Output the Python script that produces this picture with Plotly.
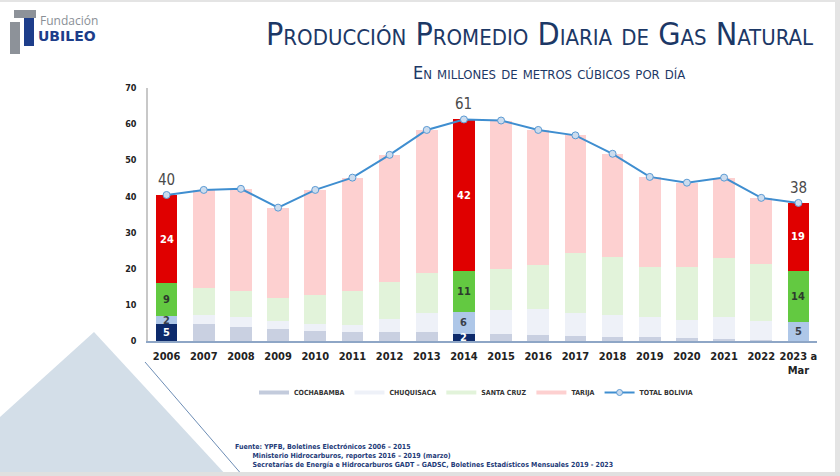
import plotly.graph_objects as go

# ---------------- data ----------------
years = ["2006", "2007", "2008", "2009", "2010", "2011", "2012", "2013", "2014",
         "2015", "2016", "2017", "2018", "2019", "2020", "2021", "2022", "2023 a<br>Mar"]
cochabamba = [4.6, 4.6, 4.0, 3.2, 2.8, 2.6, 2.6, 2.4, 1.9, 1.8, 1.7, 1.4, 1.2, 1.0, 0.8, 0.5, 0.4, 0.1]
chuquisaca = [2.3, 2.6, 2.6, 2.2, 1.8, 1.8, 3.4, 5.3, 6.2, 6.8, 7.1, 6.3, 6.0, 5.7, 5.0, 6.2, 5.0, 5.1]
santa_cruz = [9.1, 7.4, 7.3, 6.4, 8.1, 9.3, 10.4, 11.2, 11.3, 11.3, 12.2, 16.6, 16.0, 13.9, 14.6, 16.4, 15.9, 14.3]
tarija = [24.4, 27.2, 28.2, 25.1, 29.1, 31.5, 35.1, 39.5, 41.9, 41.1, 37.4, 32.6, 28.6, 24.8, 23.4, 22.1, 18.3, 18.7]
total_bolivia = [40.4, 41.8, 42.1, 36.9, 41.8, 45.2, 51.5, 58.4, 61.3, 61.0, 58.4, 56.9, 51.8, 45.4, 43.8, 45.2, 39.6, 38.2]
highlight = [0, 8, 17]
y_ticks = [0, 10, 20, 30, 40, 50, 60, 70]

# ---------------- style ----------------
FONT = "Liberation Sans Narrow, DejaVu Sans Condensed, Roboto Condensed, Arial Narrow, Roboto, sans-serif"
NAVY = "#1c3866"
series = [
    ("COCHABAMBA", cochabamba, "#c9d0e1", "#0d2a6b", "white"),
    ("CHUQUISACA", chuquisaca, "#eef1f8", "#aec7e8", "#3a3f4a"),
    ("SANTA CRUZ", santa_cruz, "#e2f3da", "#63c941", "#2d3a2d"),
    ("TARIJA", tarija, "#fdd0d0", "#e00000", "white"),
]

L, R, T, B = 148, 23, 88, 135
W, H = 840, 476
PW, PH = W - L - R, H - T - B


def px(x):
    return (x - L) / PW


def py(y):
    return (H - B - y) / PH


fig = go.Figure()

for name, vals, c_norm, c_hi, _ in series:
    colors = [c_hi if i in highlight else c_norm for i in range(len(vals))]
    fig.add_trace(go.Bar(x=years, y=vals, name=name, marker=dict(color=colors, line=dict(width=0)),
                         width=0.58, showlegend=False, hoverinfo="skip"))

fig.add_trace(go.Scatter(x=years, y=total_bolivia, mode="lines+markers", name="TOTAL BOLIVIA",
                         line=dict(color="#3f8ed0", width=2),
                         marker=dict(size=7, color="#ccdcee", line=dict(color="#5b9ad3", width=1)),
                         showlegend=False))

# legend entries (line-style symbols like the original)
for name, vals, c_norm, c_hi, _ in series:
    fig.add_trace(go.Scatter(x=[years[0]], y=[None], mode="lines", name=name,
                             line=dict(color=c_norm if name != "COCHABAMBA" else "#c3cbdc", width=4)))
fig.add_trace(go.Scatter(x=[years[0]], y=[None], mode="lines+markers", name="TOTAL BOLIVIA",
                         line=dict(color="#3f8ed0", width=2),
                         marker=dict(size=6, color="#ccdcee", line=dict(color="#5b9ad3", width=1))))

annotations = []
# segment labels on highlighted bars (x given as category index)
for i in highlight:
    base = 0.0
    for name, vals, c_norm, c_hi, tcol in series:
        v = vals[i]
        if v >= 1.0:
            annotations.append(dict(x=i, y=base + v / 2, text="<b>%d</b>" % round(v),
                                    showarrow=False, font=dict(family=FONT, size=11, color=tcol)))
        base += v
    annotations.append(dict(x=i, y=total_bolivia[i], yshift=15, text="%d" % round(total_bolivia[i]),
                            showarrow=False, font=dict(family=FONT, size=15, color="#4a4a4a")))

# title, subtitle
annotations.append(dict(xref="paper", yref="paper", x=px(815), y=py(34), xanchor="right", yanchor="middle",
                        text="Producción Promedio Diaria de Gas Natural", showarrow=False,
                        font=dict(family=FONT, size=32, color=NAVY, variant="small-caps")))
annotations.append(dict(xref="paper", yref="paper", x=px(549), y=py(73), xanchor="center", yanchor="middle",
                        text="En millones de metros cúbicos por día", showarrow=False,
                        font=dict(family=FONT, size=18, color=NAVY, variant="small-caps")))
# logo text
annotations.append(dict(xref="paper", yref="paper", x=px(38), y=py(20), xanchor="left", yanchor="middle",
                        text="Fundación", showarrow=False,
                        font=dict(family="Open Sans, sans-serif", size=12, color="#8a8f96")))
annotations.append(dict(xref="paper", yref="paper", x=px(36), y=py(36), xanchor="left", yanchor="middle",
                        text="<b>UBILEO</b>", showarrow=False,
                        font=dict(family="DejaVu Sans, sans-serif", size=14, color="#1d3d8a")))
# source
annotations.append(dict(xref="paper", yref="paper", x=px(233), y=py(441), xanchor="left", yanchor="top",
                        align="left",
                        text="<b>Fuente: YPFB, Boletines Electrónicos 2006 – 2015</b><br>"
                             "<b>        Ministerio Hidrocarburos, reportes 2016 – 2019 (marzo)</b><br>"
                             "<b>        Secretarías de Energía e Hidrocarburos GADT – GADSC, Boletines Estadísticos Mensuales 2019 - 2023</b>",
                        showarrow=False,
                        font=dict(family=FONT, size=7, color="#1d3a78")))

shapes = [
    # background triangle
    dict(type="path", xref="paper", yref="paper", layer="below",
         path="M %f,%f L %f,%f L %f,%f L %f,%f Z" % (px(94), py(332), px(0), py(417), px(0), py(476), px(227), py(476)),
         fillcolor="#d3dee8", line=dict(width=0)),
    dict(type="line", xref="paper", yref="paper", x0=px(145), y0=py(362), x1=px(243), y1=py(476),
         line=dict(color="#6d8db5", width=1)),
    # slide borders
    dict(type="rect", xref="paper", yref="paper", x0=px(835), x1=px(840), y0=py(476), y1=py(0),
         fillcolor="#e4e4e4", line=dict(width=0)),
    dict(type="rect", xref="paper", yref="paper", x0=px(0), x1=px(840), y0=py(476), y1=py(472),
         fillcolor="#e0e0e0", line=dict(width=0)),
    dict(type="rect", xref="paper", yref="paper", x0=px(0), x1=px(840), y0=py(2), y1=py(0),
         fillcolor="#e4e4e4", line=dict(width=0)),
    # logo mark
    dict(type="path", xref="paper", yref="paper",
         path="M %f,%f L %f,%f L %f,%f L %f,%f Z" % (px(10), py(22), px(20), py(22), px(20), py(54), px(10), py(54)),
         fillcolor="#8d9299", line=dict(width=0)),
    dict(type="path", xref="paper", yref="paper",
         path="M %f,%f L %f,%f L %f,%f L %f,%f Z" % (px(14), py(10), px(36), py(10), px(36), py(18), px(14), py(18)),
         fillcolor="#8d9299", line=dict(width=0)),
    dict(type="path", xref="paper", yref="paper",
         path="M %f,%f L %f,%f L %f,%f L %f,%f Z" % (px(24), py(18), px(34), py(18), px(34), py(46), px(24), py(46)),
         fillcolor="#1d3d8a", line=dict(width=0)),
]

fig.update_layout(
    width=W, height=H,
    margin=dict(l=L, r=R, t=T, b=B),
    barmode="stack",
    paper_bgcolor="white", plot_bgcolor="white",
    font=dict(family=FONT, color="#333"),
    annotations=annotations,
    shapes=shapes,
    legend=dict(orientation="h", x=px(476), xanchor="center", y=py(378), yanchor="top",
                traceorder="normal",
                font=dict(family=FONT, size=7, color="#333", weight="bold"),
                itemwidth=30, bgcolor="rgba(0,0,0,0)"),
)
fig.update_xaxes(type="category", range=[-0.5, len(years) - 0.5], showline=True, linecolor="#8ea6c6",
                 linewidth=1.5, showgrid=False, ticks="", tickangle=0,
                 tickfont=dict(family=FONT, size=11, color="#222", weight="bold"), ticklabelstandoff=4)
fig.update_yaxes(range=[0, 70], tickvals=y_ticks, showline=True, linecolor="#c8c8c8", linewidth=1.5,
                 showgrid=False, zeroline=False, ticks="",
                 tickfont=dict(family=FONT, size=9, color="#222", weight="bold"), ticklabelstandoff=8)

fig.write_html("out.html")
